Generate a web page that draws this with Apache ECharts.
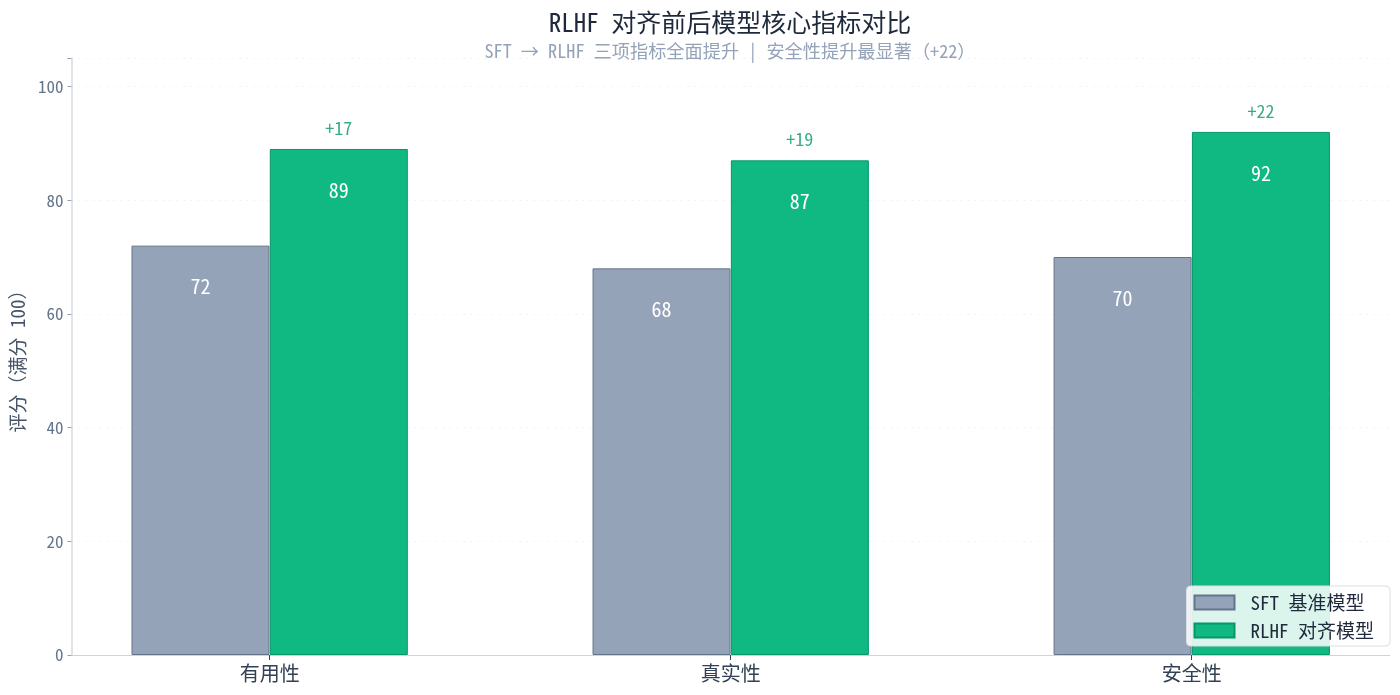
<!DOCTYPE html>
<html>
<head>
<meta charset="utf-8">
<script src="https://cdn.jsdelivr.net/npm/echarts@6/dist/echarts.min.js"></script>
<style>html,body{margin:0;padding:0;background:#fff}#c{width:1400px;height:695px}</style>
</head>
<body>
<div id="c"></div>
<script>
const categories = ['有用性', '真实性', '安全性'];
const sftScores = [72, 68, 70];
const rlhfScores = [89, 87, 92];
const yTicks = [0, 20, 40, 60, 80, 100];
const seriesNames = ['SFT 基准模型', 'RLHF 对齐模型'];

const OFF = 0.15;
const FONT = "'Noto Sans Mono CJK SC', 'Noto Sans CJK SC', monospace";
const sftData = sftScores.map((v, i) => [i - OFF, v]);
const rlhfData = rlhfScores.map((v, i) => [i + OFF, v]);
const deltaData = rlhfScores.map((v, i) => ({ value: [i + OFF, v], delta: v - sftScores[i] }));

const chart = echarts.init(document.getElementById('c'));
chart.setOption({
  backgroundColor: '#ffffff',
  animation: false,
  textStyle: { fontFamily: FONT },
  title: {
    text: 'RLHF 对齐前后模型核心指标对比',
    subtext: 'SFT → RLHF 三项指标全面提升 | 安全性提升最显著（+22）',
    left: 725,
    textAlign: 'center',
    top: 5,
    itemGap: 7,
    textStyle: { fontFamily: FONT, fontSize: 25, fontWeight: 'normal', color: '#1e293b' },
    subtextStyle: { fontFamily: FONT, fontSize: 18.2, color: '#94a3b8' }
  },
  legend: {
    data: seriesNames,
    orient: 'vertical',
    right: 10,
    bottom: 49,
    icon: 'rect',
    itemWidth: 40,
    itemHeight: 14,
    itemGap: 9,
    padding: [7, 16, 6, 7],
    backgroundColor: 'rgba(255,255,255,0.85)',
    borderColor: '#d8dee6',
    borderWidth: 1,
    borderRadius: 4,
    textStyle: { fontFamily: FONT, fontSize: 19, color: '#1e293b', padding: [0, 0, 0, 11] }
  },
  grid: { left: 71, right: 10, top: 58, bottom: 40, containLabel: false },
  xAxis: {
    type: 'value',
    min: -0.43,
    max: 2.43,
    splitLine: { show: false },
    axisLine: { show: true, onZero: false, lineStyle: { color: '#cbd5e1', width: 1 } },
    axisTick: { show: true, customValues: [0, 1, 2], length: 5, lineStyle: { color: '#334155' } },
    axisLabel: {
      customValues: [0, 1, 2],
      formatter: v => categories[Math.round(v)],
      fontFamily: FONT, fontSize: 20, color: '#334155', margin: 8
    }
  },
  yAxis: {
    type: 'value',
    min: 0,
    max: 105,
    interval: 20,
    name: '评分（满分 100）',
    nameLocation: 'middle',
    nameGap: 44,
    nameTextStyle: { fontFamily: FONT, fontSize: 19, color: '#475569' },
    axisLine: { show: true, onZero: false, lineStyle: { color: '#d6dbe1', width: 1.5 } },
    axisTick: { show: true, length: 4, lineStyle: { color: '#94a3b8' } },
    axisLabel: {
      fontFamily: FONT, fontSize: 17, color: '#64748b', margin: 8,
      customValues: yTicks
    },
    splitLine: { show: true, lineStyle: { color: '#f1f3f6', type: [2, 5], width: 1 } }
  },
  series: [
    {
      name: seriesNames[0],
      type: 'bar',
      data: sftData,
      barWidth: 138,
      barGap: '-100%',
      itemStyle: { color: '#94a3b8', borderColor: '#64748b', borderWidth: 1 },
      label: {
        show: true, position: 'insideTop', distance: 31,
        formatter: p => p.value[1],
        fontFamily: FONT, fontSize: 20, color: '#ffffff'
      },
      z: 2
    },
    {
      name: seriesNames[1],
      type: 'bar',
      data: rlhfData,
      barWidth: 138,
      barGap: '-100%',
      itemStyle: { color: '#10b981', borderColor: '#059669', borderWidth: 1 },
      label: {
        show: true, position: 'insideTop', distance: 31,
        formatter: p => p.value[1],
        fontFamily: FONT, fontSize: 20, color: '#ffffff'
      },
      z: 2
    },
    {
      name: 'delta',
      type: 'scatter',
      data: deltaData,
      symbolSize: 0,
      label: {
        show: true, position: 'top', distance: 12,
        formatter: p => '+' + p.data.delta,
        fontFamily: FONT, fontSize: 18, color: '#059669'
      },
      z: 3
    }
  ]
});
</script>
</body>
</html>
